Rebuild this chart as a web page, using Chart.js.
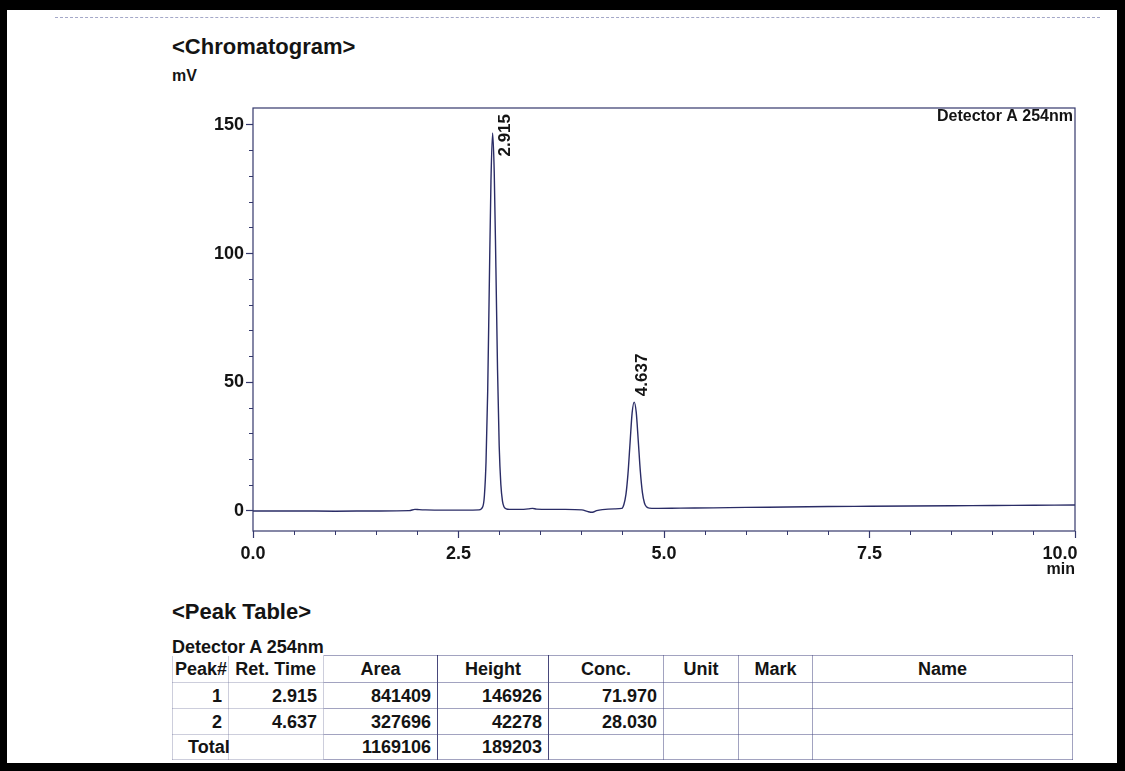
<!DOCTYPE html>
<html><head><meta charset="utf-8">
<script src="https://cdn.jsdelivr.net/npm/chart.js@4"></script>
<style>
html,body{margin:0;padding:0;background:#000;}
#page{position:relative;width:1125px;height:771px;background:#000;overflow:hidden;}
#paper{position:absolute;left:7px;top:10px;width:1110px;height:753px;background:#fff;}
#scanline{position:absolute;left:55px;top:17px;width:1045px;height:0;border-top:1px dashed #a4a8c8;}
#chart{position:absolute;left:0;top:0;}
.t{position:absolute;font-family:'Liberation Sans',Arial,sans-serif;font-weight:bold;color:#141414;white-space:nowrap;}
#ptable{position:absolute;left:172px;top:655px;width:900px;border-collapse:collapse;font-family:'Liberation Sans',Arial,sans-serif;font-weight:bold;font-size:18px;color:#141414;table-layout:fixed;}
#ptable td{border:1px solid rgba(70,72,130,0.5);padding:0 6px 0 0;text-align:right;white-space:nowrap;overflow:visible;line-height:18px;}
#ptable tr.h td{text-align:center;padding:0;}
#ptable tr.h td.nb{border-top:none;}
#ptable td.lite{border-color:rgba(90,92,140,0.3);}
#ptable td.dark{border-right:1px solid rgba(40,40,100,0.85);}
</style>
</head><body>
<div id="page">
  <div id="paper"></div>
  <div id="scanline"></div>
  <div class="t" style="left:172px;top:34px;font-size:22px;line-height:26px;">&lt;Chromatogram&gt;</div>
  <div class="t" style="left:172px;top:66px;font-size:16px;line-height:20px;">mV</div>
  <div class="t" style="left:172px;top:599px;font-size:22px;line-height:26px;">&lt;Peak Table&gt;</div>
  <div class="t" style="left:172px;top:637px;font-size:18px;line-height:21px;">Detector A 254nm</div>
  <table id="ptable"></table>
  <canvas id="chart" width="1125" height="771"></canvas>
</div>
<script>
// ---- chromatogram trace (time in min, signal in mV) ----
const times  = [0, 0.5, 1.0, 1.5, 1.9, 1.97, 2.02, 2.1, 2.3, 2.6, 2.75,
  2.795, 2.815, 2.835, 2.855, 2.875, 2.895, 2.915, 2.935, 2.955, 2.975, 2.995, 3.015, 3.035, 3.055, 3.08,
  3.12, 3.25, 3.35, 3.4, 3.45, 3.6, 3.8, 4.0, 4.08, 4.13, 4.18, 4.25, 4.4,
  4.487, 4.512, 4.537, 4.562, 4.587, 4.612, 4.637, 4.662, 4.687, 4.712, 4.737, 4.762, 4.787, 4.82,
  4.9, 5.2, 5.6, 6.0, 6.5, 7.0, 7.5, 8.0, 8.5, 9.0, 9.5, 10.0];
const signal = [0.0, 0.0, -0.1, 0.0, 0.1, 0.6, 0.5, 0.4, 0.3, 0.3, 0.4,
  1.6, 5.9, 19.2, 46.3, 88.4, 128.3, 146.9, 131.2, 94.6, 54.8, 25.3, 10.4, 3.8, 1.5, 0.8,
  0.6, 0.6, 0.8, 1.0, 0.7, 0.6, 0.6, 0.4, -0.3, -0.5, 0.1, 0.5, 0.8,
  1.0, 2.5, 6.4, 14.5, 26.4, 38.0, 42.3, 38.4, 27.2, 15.4, 7.2, 3.1, 1.6, 1.1,
  1.0, 1.1, 1.2, 1.4, 1.5, 1.7, 1.8, 1.9, 2.0, 2.1, 2.2, 2.3];

// ---- peaks ----
const peakRT     = [2.915, 4.637];
const peakHeight = [146.926, 42.278];   // mV
const peakLabels = ['2.915', '4.637'];

// ---- axes ----
const xMajorTicks = [0, 2.5, 5.0, 7.5, 10.0];
const xTickLabels = ['0.0', '2.5', '5.0', '7.5', '10.0'];
const yMajorTicks = [0, 50, 100, 150];
const yTickLabels = ['0', '50', '100', '150'];
const xRange = [0, 10];
const yRange = [-7.8, 156.6];

// ---- peak table ----
const tableHeaders  = ['Peak#', 'Ret. Time', 'Area', 'Height', 'Conc.', 'Unit', 'Mark', 'Name'];
const tablePeakNo   = ['1', '2'];
const tableRetTime  = ['2.915', '4.637'];
const tableArea     = ['841409', '327696'];
const tableHeight   = ['146926', '42278'];
const tableConc     = ['71.970', '28.030'];
const tableTotal    = ['Total', '', '1169106', '189203', '', '', '', ''];
const detectorName  = 'Detector A 254nm';

// build table
(function(){
  const widths = [56, 95, 114, 111, 115, 75, 74, 260];
  const rowH = [27, 26, 26, 25];
  const t = document.getElementById('ptable');
  const cg = document.createElement('colgroup');
  widths.forEach(w => { const c = document.createElement('col'); c.style.width = w + 'px'; cg.appendChild(c); });
  t.appendChild(cg);
  function addRow(cells, cls, h) {
    const tr = document.createElement('tr');
    if (cls) tr.className = cls;
    tr.style.height = h + 'px';
    cells.forEach((v, i) => {
      const td = document.createElement('td');
      td.textContent = v;
      if (i < 2) td.classList.add('lite');
      if (cls === 'h' && i < 2) td.classList.add('nb');
      if (i === 2 || i === 3) td.classList.add('dark');
      if (cls === 'h' && i === 1) { td.style.textAlign = 'right'; td.style.paddingRight = '7px'; }
      if (cls === 'h' && i === 0) { td.style.textAlign = 'left'; td.style.paddingLeft = '2px'; }
      tr.appendChild(td);
    });
    t.appendChild(tr);
    return tr;
  }
  addRow(tableHeaders, 'h', rowH[0]);
  for (let i = 0; i < tablePeakNo.length; i++) {
    addRow([tablePeakNo[i], tableRetTime[i], tableArea[i], tableHeight[i], tableConc[i], '', '', ''], '', rowH[i + 1]);
  }
  const tr = addRow(tableTotal, '', rowH[3]);
  tr.children[0].style.textAlign = 'left';
  tr.children[0].style.paddingLeft = '15px';
})();

const FONT = "'Liberation Sans', Arial, sans-serif";
const INK = '#2a2c66';
const TICK = '#34386c';

const framePlugin = {
  id: 'frame',
  afterDatasetsDraw(chart) {
    const {ctx, chartArea: a} = chart;
    ctx.save();
    ctx.strokeStyle = TICK;
    ctx.lineWidth = 1.2;
    ctx.strokeRect(a.left, a.top, a.right - a.left, a.bottom - a.top);
    ctx.restore();
  }
};

const peakLabelPlugin = {
  id: 'peakLabels',
  afterDatasetsDraw(chart) {
    const {ctx, chartArea: a, scales: {x, y}} = chart;
    ctx.save();
    ctx.font = 'bold 17px ' + FONT;
    ctx.fillStyle = '#141414';
    ctx.textAlign = 'left';
    ctx.textBaseline = 'middle';
    peakRT.forEach((rt, i) => {
      const px = x.getPixelForValue(rt);
      const py = y.getPixelForValue(peakHeight[i]);
      const w = ctx.measureText(peakLabels[i]).width;
      let start = py - 6;
      if (start - w < a.top + 6) start = a.top + 6 + w;
      ctx.save();
      ctx.translate(px + (i === 0 ? 13 : 8), start);
      ctx.rotate(-Math.PI / 2);
      ctx.fillText(peakLabels[i], 0, 0);
      ctx.restore();
    });
    // detector label inside top-right
    ctx.font = 'bold 16px ' + FONT;
    ctx.textAlign = 'right';
    ctx.textBaseline = 'middle';
    ctx.fillText(detectorName, a.right - 2, a.top + 9);
    ctx.restore();
  }
};

new Chart(document.getElementById('chart'), {
  type: 'line',
  data: {
    datasets: [{
      data: times.map((t, i) => ({x: t, y: signal[i]})),
      borderColor: INK,
      borderWidth: 1.4,
      pointRadius: 0,
      fill: false,
      cubicInterpolationMode: 'monotone'
    }]
  },
  options: {
    responsive: false,
    animation: false,
    events: [],
    layout: {padding: {left: 193, right: 50, top: 108, bottom: 192}},
    plugins: {legend: {display: false}, tooltip: {enabled: false}, title: {display: false}},
    scales: {
      x: {
        type: 'linear', position: 'bottom', weight: 1,
        min: xRange[0], max: xRange[1],
        afterBuildTicks: s => { s.ticks = xMajorTicks.map(v => ({value: v})); },
        afterFit: s => { s.height = 48; },
        border: {display: false},
        grid: {drawOnChartArea: false, drawTicks: true, tickLength: 7, tickColor: TICK, tickWidth: 1.2},
        ticks: {padding: 5, color: '#141414', font: {family: FONT, size: 18, weight: 'bold'},
                maxRotation: 0, autoSkip: false,
                // last label is pushed left so it ends at the frame edge
                callback: (v, i) => i === xTickLabels.length - 1 ? xTickLabels[i] + '\u00a0\u00a0\u00a0\u00a0\u00a0\u00a0' : xTickLabels[i]},
        title: {display: true, text: 'min', align: 'end', color: '#141414',
                font: {family: FONT, size: 16, weight: 'bold'}, padding: {top: 0, bottom: 0}}
      },
      xm: {
        type: 'linear', position: 'bottom', weight: 0,
        min: xRange[0], max: xRange[1],
        afterFit: s => { s.height = 0; },
        border: {display: false},
        grid: {drawOnChartArea: false, drawTicks: true, tickLength: 4, tickColor: TICK, tickWidth: 1},
        ticks: {display: false, stepSize: 0.5, autoSkip: false}
      },
      y: {
        type: 'linear', position: 'left', weight: 1,
        min: yRange[0], max: yRange[1],
        afterBuildTicks: s => { s.ticks = yMajorTicks.map(v => ({value: v})); },
        afterFit: s => { s.width = 60; },
        border: {display: false},
        grid: {drawOnChartArea: false, drawTicks: true, tickLength: 7, tickColor: TICK, tickWidth: 1.2},
        ticks: {padding: 2, color: '#141414', font: {family: FONT, size: 18, weight: 'bold'},
                autoSkip: false, callback: (v, i) => yTickLabels[i]}
      },
      ym: {
        type: 'linear', position: 'left', weight: 0,
        min: yRange[0], max: yRange[1],
        afterFit: s => { s.width = 0; },
        border: {display: false},
        grid: {drawOnChartArea: false, drawTicks: true, tickLength: 4, tickColor: TICK, tickWidth: 1},
        ticks: {display: false, stepSize: 10, includeBounds: false, autoSkip: false}
      }
    }
  },
  plugins: [framePlugin, peakLabelPlugin]
});
</script>
</body></html>
